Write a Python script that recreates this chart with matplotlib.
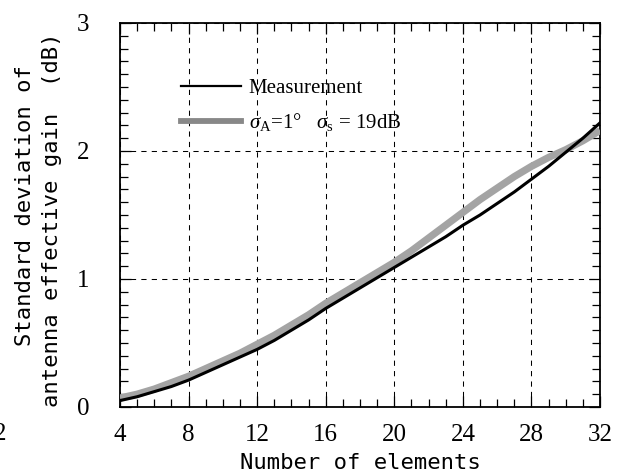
import matplotlib
matplotlib.use("Agg")
import matplotlib.pyplot as plt
from matplotlib.lines import Line2D
from matplotlib.ticker import MultipleLocator

# ---- data ----
elements = list(range(4, 33))
measurement = [0.05, 0.08, 0.12, 0.16, 0.21, 0.27, 0.33, 0.39, 0.45, 0.52,
               0.60, 0.68, 0.77, 0.85, 0.93, 1.01, 1.09, 1.17, 1.25, 1.33,
               1.42, 1.50, 1.59, 1.68, 1.78, 1.88, 1.99, 2.10, 2.22]
simulation = [0.07, 0.10, 0.14, 0.19, 0.24, 0.30, 0.36, 0.42, 0.49, 0.56,
              0.64, 0.72, 0.81, 0.89, 0.97, 1.05, 1.13, 1.22, 1.32, 1.42,
              1.52, 1.62, 1.71, 1.80, 1.88, 1.95, 2.01, 2.08, 2.16]
x_ticks = [4, 8, 12, 16, 20, 24, 28, 32]
y_ticks = [0, 1, 2, 3]
label_meas = "Measurement"
label_sim = r"$\sigma_{\rm A}$=1°   $\sigma_{\rm s}$ = 19dB"
ylabel_lines = ["Standard deviation of", "antenna effective gain  (dB)"]
xlabel = "Number of elements"

plt.rcParams['mathtext.fontset'] = 'custom'
plt.rcParams['mathtext.rm'] = 'Liberation Serif'
plt.rcParams['mathtext.it'] = 'Liberation Serif:italic'

serif = 'Liberation Serif'
mono = 'DejaVu Sans Mono'

fig = plt.figure(figsize=(6.27, 4.76), dpi=100)
ax = fig.add_axes([0.1914, 0.145, 0.7656, 0.8067])

ax.plot(elements, simulation, color='#a4a4a4', lw=5.2, solid_capstyle='butt', zorder=3)
ax.plot(elements, measurement, color='black', lw=2.2, zorder=4)

ax.set_xlim(4, 32)
ax.set_ylim(0, 3)
ax.set_xticks(x_ticks)
ax.set_yticks(y_ticks)
ax.xaxis.set_minor_locator(MultipleLocator(1))
ax.yaxis.set_minor_locator(MultipleLocator(0.1))
ax.tick_params(which='both', direction='in', top=True, right=True, width=0.9, color='black')
ax.tick_params(which='major', length=8)
ax.tick_params(which='minor', length=6)
ax.tick_params(axis='x', which='major', pad=12)
ax.tick_params(axis='y', which='major', pad=22)
for lab in ax.get_xticklabels() + ax.get_yticklabels():
    lab.set_fontfamily(serif)
    lab.set_fontsize(18)

for s in ax.spines.values():
    s.set_linewidth(1.3)

ax.grid(True, which='major', color='black', lw=0.75, linestyle=(0, (5, 5)))
ax.set_axisbelow(False)

ax.set_xlabel(xlabel, fontfamily=mono, fontsize=16, labelpad=5)
fig.text(25 / 627, 1 - 205.5 / 476, ylabel_lines[0], rotation=90, ha='center', va='center',
         fontfamily=mono, fontsize=16)
fig.text(52 / 627, 1 - 220 / 476, ylabel_lines[1], rotation=90, ha='center', va='center',
         fontfamily=mono, fontsize=16)

handles = [Line2D([], [], color='black', lw=1.6),
           Line2D([], [], color='#888888', lw=4.2)]
leg = ax.legend(handles, [label_meas, label_sim], loc='upper left',
                bbox_to_anchor=(0.088, 0.905), frameon=False,
                prop={'family': serif, 'size': 15}, handlelength=2.9,
                handletextpad=0.35, labelspacing=0.65)

fig.text(-0.009, 0.075, "2", fontfamily=serif, fontsize=18)

fig.savefig("out.png", dpi=100)
